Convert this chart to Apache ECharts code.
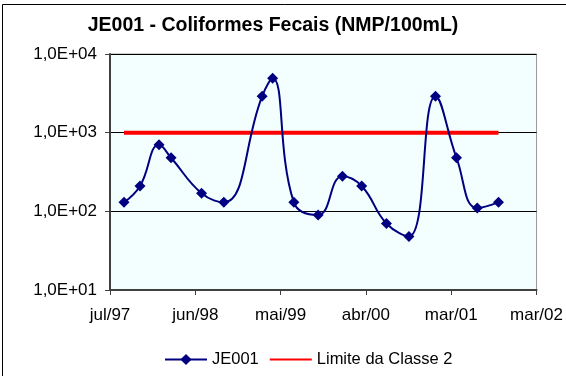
<!DOCTYPE html>
<html>
<head>
<meta charset="utf-8">
<script src="https://cdn.jsdelivr.net/npm/echarts@6/dist/echarts.min.js"></script>
<style>
html,body{margin:0;padding:0;background:#fff;}
#chart{width:566px;height:376px;}
</style>
</head>
<body>
<div id="chart"></div>
<script>
// ---- data ----
var startDate = '1997-07-01';
var tickStepDays = 341;
var xTickLabels = ['jul/97', 'jun/98', 'mai/99', 'abr/00', 'mar/01', 'mar/02'];
var yTickValues = [10, 100, 1000, 10000];
var sampleDates = ['1997-08-26','1997-10-29','1998-01-13','1998-03-02','1998-07-02','1998-09-29',
                   '1999-03-01','1999-04-12','1999-07-06','1999-10-11','2000-01-16','2000-04-02',
                   '2000-07-10','2000-10-08','2001-01-22','2001-04-16','2001-07-08','2001-10-01'];
var je001Values = [130, 210, 700, 480, 170, 130, 2900, 4900, 130, 90, 280, 210, 70, 48, 2900, 480, 110, 130];
var limitDates = ['1997-08-26', '2001-10-01'];
var limitValues = [1000, 1000];
var seriesNames = ['JE001', 'Limite da Classe 2'];
var titleText = 'JE001 - Coliformes Fecais (NMP/100mL)';

function dayIndex(s) {
  var p = s.split('-');
  var p0 = startDate.split('-');
  return Math.round((Date.UTC(+p[0], +p[1] - 1, +p[2]) - Date.UTC(+p0[0], +p0[1] - 1, +p0[2])) / 86400000);
}
var je001Data = sampleDates.map(function (d, i) { return [dayIndex(d), je001Values[i]]; });
var limitData = limitDates.map(function (d, i) { return [dayIndex(d), limitValues[i]]; });

var FONT = "'Liberation Sans', Arial, sans-serif";
var chart = echarts.init(document.getElementById('chart'), null, {renderer: 'canvas'});
chart.setOption({
  animation: false,
  backgroundColor: '#ffffff',
  title: {
    text: titleText,
    left: 268,
    textAlign: 'center',
    top: 11,
    textStyle: {fontFamily: FONT, fontWeight: 'bold', fontSize: 19.5, color: '#000'}
  },
  legend: {
    left: 159,
    top: 346,
    itemWidth: 42,
    itemHeight: 14,
    itemGap: 10,
    textStyle: {fontFamily: FONT, fontSize: 16.5, color: '#000'},
    data: [
      {name: seriesNames[0]},
      {name: seriesNames[1], itemStyle: {opacity: 0}}
    ]
  },
  graphic: [{
    type: 'rect',
    shape: {x: 2.5, y: 4.5, width: 800, height: 600},
    style: {fill: 'none', stroke: '#000', lineWidth: 1},
    silent: true,
    z: 100
  }],
  grid: {
    left: 110, right: 28, top: 54, bottom: 86,
    show: true,
    backgroundColor: '#F3FFFF',
    borderColor: '#999',
    borderWidth: 1
  },
  xAxis: {
    type: 'value',
    min: 0,
    max: tickStepDays * (xTickLabels.length - 1),
    interval: tickStepDays,
    axisLine: {show: true, lineStyle: {color: '#404040', width: 2}},
    axisTick: {show: true, inside: false, length: 5, lineStyle: {color: '#404040', width: 1}},
    splitLine: {show: false},
    axisLabel: {
      margin: 17,
      fontFamily: FONT, fontSize: 17, color: '#000',
      formatter: function (v) { return xTickLabels[Math.round(v / tickStepDays)] || ''; }
    }
  },
  yAxis: {
    type: 'log',
    logBase: 10,
    min: yTickValues[0],
    max: yTickValues[yTickValues.length - 1],
    axisLine: {show: true, onZero: false, lineStyle: {color: '#404040', width: 2}},
    axisTick: {show: true, inside: false, length: 5, lineStyle: {color: '#404040', width: 1}},
    splitLine: {show: true, lineStyle: {color: '#000', width: 1}},
    minorTick: {show: false},
    axisLabel: {
      margin: 13,
      fontFamily: FONT, fontSize: 17, color: '#000',
      formatter: function (v) {
        var e = Math.round(Math.log(v) / Math.LN10);
        return '1,0E+' + (e < 10 ? '0' : '') + e;
      }
    }
  },
  series: [{
    name: seriesNames[0],
    type: 'line',
    data: je001Data,
    smooth: 0.45,
    symbol: 'diamond',
    symbolSize: 11,
    itemStyle: {color: '#000080'},
    lineStyle: {color: '#000080', width: 2},
    z: 3
  }, {
    name: seriesNames[1],
    type: 'line',
    data: limitData,
    symbol: 'none',
    itemStyle: {color: '#FF0000'},
    lineStyle: {color: '#FF0000', width: 4},
    z: 2
  }]
});
</script>
</body>
</html>
